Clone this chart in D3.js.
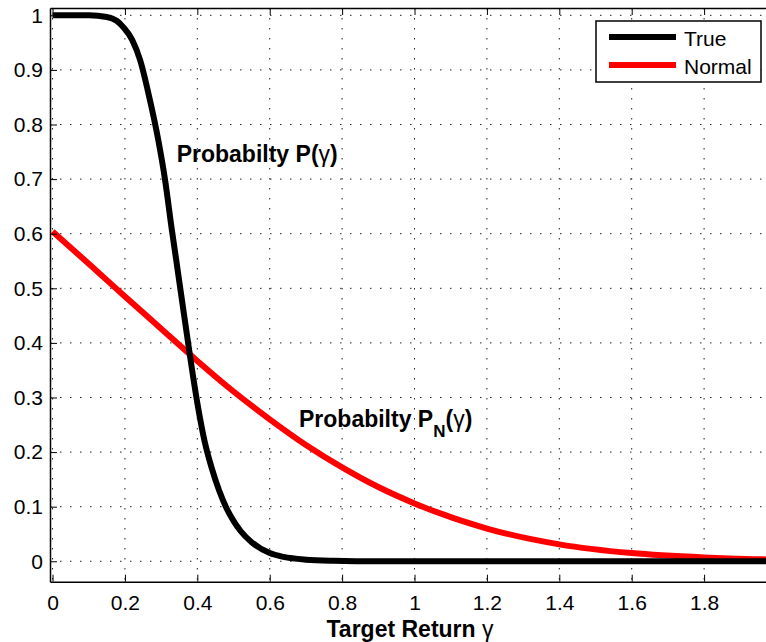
<!DOCTYPE html>
<html>
<head>
<meta charset="utf-8">
<script src="https://cdn.jsdelivr.net/npm/d3@7"></script>
<style>
  body { margin: 0; background: #fff; }
  svg { display: block; font-family: "Liberation Sans", Arial, Helvetica, sans-serif; }
</style>
</head>
<body>
<div class="chart"></div>
<script>
// values
var gammaTrue = [0, 0.10, 0.15, 0.177, 0.196, 0.22, 0.242, 0.269, 0.292, 0.311, 0.329, 0.341, 0.355, 0.38, 0.40, 0.42, 0.44, 0.46, 0.48, 0.50, 0.52, 0.55, 0.60, 0.638, 0.70, 0.776, 0.90, 2.0];
var probTrue  = [1, 1, 0.997, 0.99, 0.978, 0.955, 0.918, 0.845, 0.772, 0.698, 0.61, 0.555, 0.49, 0.375, 0.29, 0.22, 0.17, 0.13, 0.098, 0.074, 0.055, 0.035, 0.015, 0.008, 0.003, 0.001, 0, 0];
var gammaNormal = [0, 0.1, 0.2, 0.3, 0.4, 0.5, 0.6, 0.7, 0.8, 0.9, 1.0, 1.2, 1.4, 1.6, 1.8, 2.0];
var probNormal  = [0.604, 0.545, 0.485, 0.426, 0.367, 0.311, 0.26, 0.213, 0.172, 0.136, 0.106, 0.060, 0.031, 0.015, 0.007, 0.003];
var xTicks = [0, 0.2, 0.4, 0.6, 0.8, 1, 1.2, 1.4, 1.6, 1.8];
var yTicks = [0, 0.1, 0.2, 0.3, 0.4, 0.5, 0.6, 0.7, 0.8, 0.9, 1];
var legendNames = ["True", "Normal"];
var legendColors = ["#000", "#f00"];

drawChart();
function drawChart() {
  var width = 766, height = 642;
  var plotLeft = 50, plotTop = 8, plotBottom = 581.7;

  var x = d3.scaleLinear().domain([-0.007, 2.0]).range([plotLeft, 776.5]);
  var y = d3.scaleLinear().domain([-0.0374, 1.0134]).range([plotBottom, plotTop]);

  var svg = d3.select(".chart").append("svg")
    .attr("width", width)
    .attr("height", height);

  //dotted grid
  var grid = svg.append("g").attr("class", "grid")
    .attr("stroke", "#222").attr("stroke-width", 1).attr("stroke-dasharray", "1.5,8.5");
  grid.selectAll("line.gx").data(xTicks).enter().append("line")
    .attr("class", "gx")
    .attr("x1", function(d) {return x(d)}).attr("x2", function(d) {return x(d)})
    .attr("y1", plotTop).attr("y2", plotBottom);
  grid.selectAll("line.gy").data(yTicks).enter().append("line")
    .attr("class", "gy")
    .attr("x1", plotLeft).attr("x2", width)
    .attr("y1", function(d) {return y(d)}).attr("y2", function(d) {return y(d)});

  //curves
  var line = d3.line()
    .x(function(d) {return x(d[0])})
    .y(function(d) {return y(d[1])})
    .curve(d3.curveMonotoneX);

  svg.append("path")
    .datum(gammaNormal.map(function(g, i) {return [g, probNormal[i]]}))
    .attr("fill", "none").attr("stroke", "#f00").attr("stroke-width", 6)
    .attr("d", line);
  svg.append("path")
    .datum(gammaTrue.map(function(g, i) {return [g, probTrue[i]]}))
    .attr("fill", "none").attr("stroke", "#000").attr("stroke-width", 6)
    .attr("d", line);

  //axes, MATLAB style with inward ticks
  var fmt = d3.format("~g");
  var xAxis = svg.append("g")
    .attr("transform", "translate(0," + plotBottom + ")")
    .call(d3.axisBottom(x).tickValues(xTicks).tickSize(-7).tickSizeOuter(0).tickPadding(13).tickFormat(fmt));
  var xTop = svg.append("g")
    .attr("transform", "translate(0," + plotTop + ")")
    .call(d3.axisTop(x).tickValues(xTicks).tickSize(-7).tickSizeOuter(0).tickFormat(""));
  var yAxis = svg.append("g")
    .attr("transform", "translate(" + plotLeft + ",0)")
    .call(d3.axisLeft(y).tickValues(yTicks).tickSize(-7).tickSizeOuter(0).tickPadding(7).tickFormat(fmt));

  [xAxis, xTop, yAxis].forEach(function(a) {
    a.selectAll("path.domain").attr("stroke", "#000").attr("stroke-width", 1.5);
    a.selectAll(".tick line").attr("stroke", "#000").attr("stroke-width", 1);
    a.selectAll("text").attr("font-size", 21).attr("fill", "#000")
      .attr("font-family", "'Liberation Sans', Arial, Helvetica, sans-serif");
  });

  //annotations
  var a1 = svg.append("text").attr("x", 176.7).attr("y", 161.7)
    .attr("font-size", 23).attr("font-weight", "bold");
  a1.append("tspan").text("Probabilty P(");
  a1.append("tspan").attr("font-weight", "normal").text("γ");
  a1.append("tspan").text(")");

  var a2 = svg.append("text").attr("x", 299).attr("y", 426.7)
    .attr("font-size", 23).attr("font-weight", "bold");
  a2.append("tspan").text("Probabilty P");
  a2.append("tspan").attr("font-size", 17).attr("dy", 10).text("N");
  a2.append("tspan").attr("dy", -10).text("(");
  a2.append("tspan").attr("font-weight", "normal").text("γ");
  a2.append("tspan").text(")");

  var xl = svg.append("text").attr("x", 410).attr("y", 636.7)
    .attr("text-anchor", "middle").attr("font-size", 23).attr("font-weight", "bold");
  xl.append("tspan").text("Target Return ");
  xl.append("tspan").attr("font-weight", "normal").text("γ");

  //legend
  var legend = svg.append("g").attr("class", "legend");
  legend.append("rect")
    .attr("x", 596).attr("y", 21).attr("width", 165).attr("height", 61)
    .attr("fill", "#fff").attr("stroke", "#000").attr("stroke-width", 1.5);
  legendNames.forEach(function(name, i) {
    var ly = 37 + i * 28;
    legend.append("line")
      .attr("x1", 609).attr("x2", 676).attr("y1", ly).attr("y2", ly)
      .attr("stroke", legendColors[i]).attr("stroke-width", 6);
    legend.append("text")
      .attr("x", 684).attr("y", ly + 8.5)
      .attr("font-size", 21).text(name);
  });
}
</script>
</body>
</html>
